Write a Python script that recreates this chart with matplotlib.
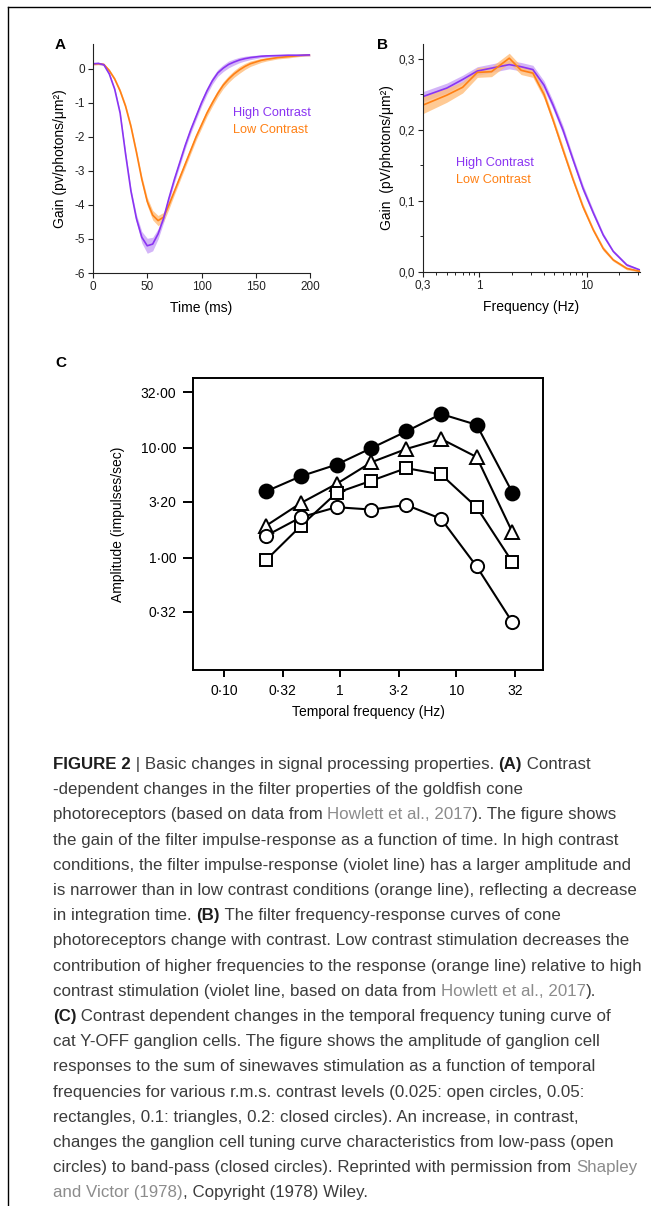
import numpy as np
import matplotlib.pyplot as plt
from matplotlib.lines import Line2D
from matplotlib.ticker import FixedLocator, NullLocator, NullFormatter

plt.rcParams['font.family'] = ['Liberation Sans', 'DejaVu Sans']
plt.rcParams['axes.unicode_minus'] = False

# ---- Panel A: impulse response (gain vs time) ----
time_ms = [0, 5, 10, 15, 20, 25, 30, 35, 40, 45, 50, 55, 60, 65, 70, 75, 80, 85, 90, 95,
           100, 105, 110, 115, 120, 125, 130, 135, 140, 145, 150, 155, 160, 170, 180, 190, 200]
gain_high = [0.15, 0.16, 0.12, -0.15, -0.6, -1.3, -2.5, -3.6, -4.4, -4.95, -5.2, -5.15, -4.85,
             -4.4, -3.8, -3.25, -2.75, -2.25, -1.8, -1.4, -1.0, -0.65, -0.35, -0.12, 0.02, 0.13,
             0.2, 0.26, 0.3, 0.33, 0.35, 0.37, 0.38, 0.39, 0.4, 0.4, 0.41]
gain_high_err = [0.03, 0.03, 0.03, 0.04, 0.05, 0.06, 0.07, 0.08, 0.12, 0.17, 0.22, 0.2, 0.15,
                 0.12, 0.1, 0.1, 0.1, 0.1, 0.1, 0.1, 0.1, 0.1, 0.1, 0.1, 0.1, 0.1, 0.09, 0.08,
                 0.07, 0.06, 0.05, 0.04, 0.04, 0.03, 0.03, 0.03, 0.03]
gain_low = [0.14, 0.15, 0.13, -0.05, -0.3, -0.65, -1.1, -1.7, -2.45, -3.25, -3.9, -4.3, -4.46,
            -4.36, -4.0, -3.6, -3.2, -2.8, -2.4, -2.0, -1.65, -1.3, -1.0, -0.72, -0.48, -0.3,
            -0.15, -0.03, 0.07, 0.15, 0.2, 0.25, 0.28, 0.33, 0.36, 0.39, 0.41]
gain_low_err = [0.03, 0.03, 0.03, 0.04, 0.05, 0.06, 0.07, 0.08, 0.09, 0.1, 0.12, 0.14, 0.15,
                0.14, 0.12, 0.1, 0.1, 0.1, 0.1, 0.1, 0.1, 0.1, 0.1, 0.1, 0.1, 0.1, 0.1, 0.1,
                0.09, 0.08, 0.07, 0.06, 0.05, 0.04, 0.04, 0.03, 0.03]

# ---- Panel B: frequency response ----
freq_hz = [0.3, 0.5, 0.7, 0.96, 1.3, 1.9, 2.45, 3.15, 4.0, 4.85, 6.0, 7.45, 9.2, 11.5,
           14.2, 17.6, 23.5, 31.0]
fgain_high = [0.247, 0.259, 0.271, 0.283, 0.287, 0.292, 0.289, 0.285, 0.263, 0.235, 0.200,
              0.158, 0.118, 0.083, 0.052, 0.029, 0.010, 0.003]
fgain_high_err = [0.007, 0.007, 0.006, 0.006, 0.006, 0.006, 0.006, 0.006, 0.006, 0.006, 0.006,
                  0.005, 0.005, 0.004, 0.003, 0.002, 0.002, 0.001]
fgain_low = [0.235, 0.249, 0.260, 0.281, 0.282, 0.301, 0.284, 0.280, 0.250, 0.214, 0.172,
             0.130, 0.092, 0.059, 0.033, 0.017, 0.005, 0.001]
fgain_low_err = [0.012, 0.010, 0.008, 0.007, 0.007, 0.007, 0.006, 0.006, 0.006, 0.005, 0.005,
                 0.004, 0.004, 0.003, 0.003, 0.002, 0.002, 0.001]

# ---- Panel C: cat Y-OFF ganglion cell tuning ----
c_freq = [0.23, 0.46, 0.93, 1.86, 3.7, 7.4, 15.0, 30.5]
amp_020 = [4.0, 5.5, 7.0, 9.9, 14.0, 20.2, 16.1, 3.9]      # closed circles
amp_010 = [1.95, 3.14, 4.68, 7.36, 9.7, 12.0, 8.2, 1.70]    # triangles
amp_005 = [0.95, 1.95, 3.87, 5.0, 6.5, 5.7, 2.87, 0.91]     # squares
amp_0025 = [1.58, 2.33, 2.87, 2.73, 3.01, 2.25, 0.83, 0.258]  # open circles

c_xticks = [0.1, 0.32, 1, 3.2, 10, 32]
c_xticklabels = ['0·10', '0·32', '1', '3·2', '10', '32']
c_yticks = [0.32, 1, 3.2, 10, 32]
c_yticklabels = ['0·32', '1·00', '3·20', '10·00', '32·00']

VIOLET = '#8a34f2'
VIOLET_BAND = '#c9a3f7'
ORANGE = '#ff8014'
ORANGE_BAND = '#ffbd7a'
W, H = 651, 1206


def rect(l, t, r, b):
    return [l / W, 1 - b / H, (r - l) / W, (b - t) / H]


fig = plt.figure(figsize=(W / 100, H / 100), dpi=100)

# ------------------------------
# Panel A
# ------------------------------
axA = fig.add_axes(rect(93, 44, 310, 273))
t = np.array(time_ms)
for y, e, c, bc in [(gain_low, gain_low_err, ORANGE, ORANGE_BAND),
                    (gain_high, gain_high_err, VIOLET, VIOLET_BAND)]:
    y = np.array(y); e = np.array(e)
    axA.fill_between(t, y - e, y + e, color=bc, alpha=0.8, lw=0)
for y, c in [(gain_low, ORANGE), (gain_high, VIOLET)]:
    axA.plot(t, y, color=c, lw=1.2)
axA.set_xlim(0, 200)
axA.set_ylim(-6, 0.73)
axA.set_xticks([0, 50, 100, 150, 200])
axA.set_yticks([0, -1, -2, -3, -4, -5, -6])
axA.set_xlabel('Time (ms)', fontsize=10)
axA.set_ylabel('Gain (pv/photons/μm²)', fontsize=10)
axA.xaxis.set_label_coords(0.5, -0.122)
axA.yaxis.set_label_coords(-0.12, 0.5)
axA.text(0.645, 0.699, 'High Contrast', color=VIOLET, fontsize=9.2,
         transform=axA.transAxes, va='center')
axA.text(0.645, 0.624, 'Low Contrast', color=ORANGE, fontsize=9.2,
         transform=axA.transAxes, va='center')

# ------------------------------
# Panel B
# ------------------------------
axB = fig.add_axes(rect(423, 44, 640, 272))
f = np.array(freq_hz)
for y, e, bc in [(fgain_high, fgain_high_err, VIOLET_BAND),
                 (fgain_low, fgain_low_err, ORANGE_BAND)]:
    y = np.array(y); e = np.array(e)
    axB.fill_between(f, y - e, y + e, color=bc, alpha=0.8, lw=0)
axB.plot(f, fgain_high, color=VIOLET, lw=1.2)
axB.plot(f, fgain_low, color=ORANGE, lw=1.2)
axB.set_xscale('log')
axB.set_xlim(0.3, 31.2)
axB.set_ylim(0, 0.321)
axB.xaxis.set_major_locator(FixedLocator([0.3, 1, 10]))
axB.set_xticklabels(['0,3', '1', '10'])
minor = [m * d for d in (0.1, 1, 10) for m in range(2, 10) if 0.3 < m * d < 31.2 and m * d != 0.3]
axB.xaxis.set_minor_locator(FixedLocator(minor))
axB.xaxis.set_minor_formatter(NullFormatter())
axB.set_yticks([0, 0.1, 0.2, 0.3])
axB.set_yticklabels(['0,0', '0,1', '0,2', '0,3'])
axB.yaxis.set_minor_locator(FixedLocator([0.05, 0.15, 0.25]))
axB.set_xlabel('Frequency (Hz)', fontsize=10)
axB.set_ylabel('Gain  (pV/photons/μm²)', fontsize=10)
axB.xaxis.set_label_coords(0.5, -0.123)
axB.yaxis.set_label_coords(-0.134, 0.5)
axB.text(0.152, 0.478, 'High Contrast', color=VIOLET, fontsize=9.2,
         transform=axB.transAxes, va='center')
axB.text(0.152, 0.404, 'Low Contrast', color=ORANGE, fontsize=9.2,
         transform=axB.transAxes, va='center')

for ax in (axA, axB):
    for s in ('top', 'right'):
        ax.spines[s].set_visible(False)
    for s in ('left', 'bottom'):
        ax.spines[s].set_linewidth(0.8)
        ax.spines[s].set_color('#222222')
    ax.tick_params(which='major', length=3.5, width=0.8, labelsize=8.5, pad=2,
                   color='#222222', labelcolor='#222222')
    ax.tick_params(which='minor', length=2, width=0.7, color='#222222')

# ------------------------------
# Panel C
# ------------------------------
axC = fig.add_axes(rect(193, 378, 543, 670))
axC.set_xscale('log')
axC.set_yscale('log')
series = [(amp_020, 'o', 'black', 10),
          (amp_010, '^', 'white', 10.5),
          (amp_005, 's', 'white', 8.5),
          (amp_0025, 'o', 'white', 9.5)]
for vals, mk, fc, ms in series:
    axC.plot(c_freq, vals, color='black', lw=1.5, marker=mk, ms=ms,
             mfc=fc, mec='black', mew=1.4)
axC.set_xlim(0.0538, 56)
axC.set_ylim(0.095, 42.9)
axC.xaxis.set_major_locator(FixedLocator(c_xticks))
axC.set_xticklabels(c_xticklabels)
axC.yaxis.set_major_locator(FixedLocator(c_yticks))
axC.set_yticklabels(c_yticklabels)
axC.xaxis.set_minor_locator(NullLocator())
axC.yaxis.set_minor_locator(NullLocator())
for s in axC.spines.values():
    s.set_linewidth(1.4)
axC.tick_params(axis='x', length=5, width=1.4, labelsize=10, pad=5)
axC.tick_params(axis='y', length=7, width=1.4, labelsize=10, pad=5)
axC.set_xlabel('Temporal frequency (Hz)', fontsize=10)
axC.set_ylabel('Amplitude (impulses/sec)', fontsize=10)
axC.xaxis.set_label_coords(0.5, -0.12)
axC.yaxis.set_label_coords(-0.194, 0.5)

# panel letters
for lab, x, y in [('A', 60, 45), ('B', 383, 45), ('C', 61, 363)]:
    fig.text(x / W, 1 - y / H, lab, fontsize=11, fontweight='bold', ha='center', va='center')

# frame lines (top and left)
fig.add_artist(Line2D([8 / W, 1], [1 - 7 / H, 1 - 7 / H], transform=fig.transFigure,
                      color='black', lw=1))
fig.add_artist(Line2D([8 / W, 8 / W], [0, 1 - 7 / H], transform=fig.transFigure,
                      color='black', lw=1))

# ------------------------------
# Caption
# ------------------------------
TXT = '#3c3c3c'
LINK = '#8c8c8c'
BOLD = '#1e1e1e'
caption = [
    [('FIGURE 2', 'b'), (' | Basic changes in signal processing properties. ', 'n'), ('(A)', 'b'), (' Contrast', 'n')],
    [('-dependent changes in the filter properties of the goldfish cone', 'n')],
    [('photoreceptors (based on data from ', 'n'), ('Howlett et al., 2017', 'l'), ('). The figure shows', 'n')],
    [('the gain of the filter impulse-response as a function of time. In high contrast', 'n')],
    [('conditions, the filter impulse-response (violet line) has a larger amplitude and', 'n')],
    [('is narrower than in low contrast conditions (orange line), reflecting a decrease', 'n')],
    [('in integration time. ', 'n'), ('(B)', 'b'), (' The filter frequency-response curves of cone', 'n')],
    [('photoreceptors change with contrast. Low contrast stimulation decreases the', 'n')],
    [('contribution of higher frequencies to the response (orange line) relative to high', 'n')],
    [('contrast stimulation (violet line, based on data from ', 'n'), ('Howlett et al., 2017', 'l'), (').', 'n')],
    [('(C)', 'b'), (' Contrast dependent changes in the temporal frequency tuning curve of', 'n')],
    [('cat Y-OFF ganglion cells. The figure shows the amplitude of ganglion cell', 'n')],
    [('responses to the sum of sinewaves stimulation as a function of temporal', 'n')],
    [('frequencies for various r.m.s. contrast levels (0.025: open circles, 0.05:', 'n')],
    [('rectangles, 0.1: triangles, 0.2: closed circles). An increase, in contrast,', 'n')],
    [('changes the ganglion cell tuning curve characteristics from low-pass (open', 'n')],
    [('circles) to band-pass (closed circles). Reprinted with permission from ', 'n'), ('Shapley', 'l')],
    [('and Victor (1978)', 'l'), (', Copyright (1978) Wiley.', 'n')],
]

renderer = fig.canvas.get_renderer()


def seg_width(s, fs, weight):
    a = fig.text(0, 0, '|' + s + '|', fontsize=fs, fontweight=weight)
    b = fig.text(0, 0, '||', fontsize=fs, fontweight=weight)
    w = a.get_window_extent(renderer).width - b.get_window_extent(renderer).width
    a.remove(); b.remove()
    return w


fs = 10.0 * 587 / seg_width(caption[8][0][0], 10.0, 'normal')
for i, line in enumerate(caption):
    x = 53.0
    y = 763 + 25.2 * i
    for s, kind in line:
        weight = 'bold' if kind == 'b' else 'normal'
        color = {'b': BOLD, 'n': TXT, 'l': LINK}[kind]
        fig.text(x / W, 1 - y / H, s, fontsize=fs, fontweight=weight, color=color,
                 ha='left', va='center_baseline')
        x += seg_width(s, fs, weight)

fig.savefig('out.png', dpi=100)
